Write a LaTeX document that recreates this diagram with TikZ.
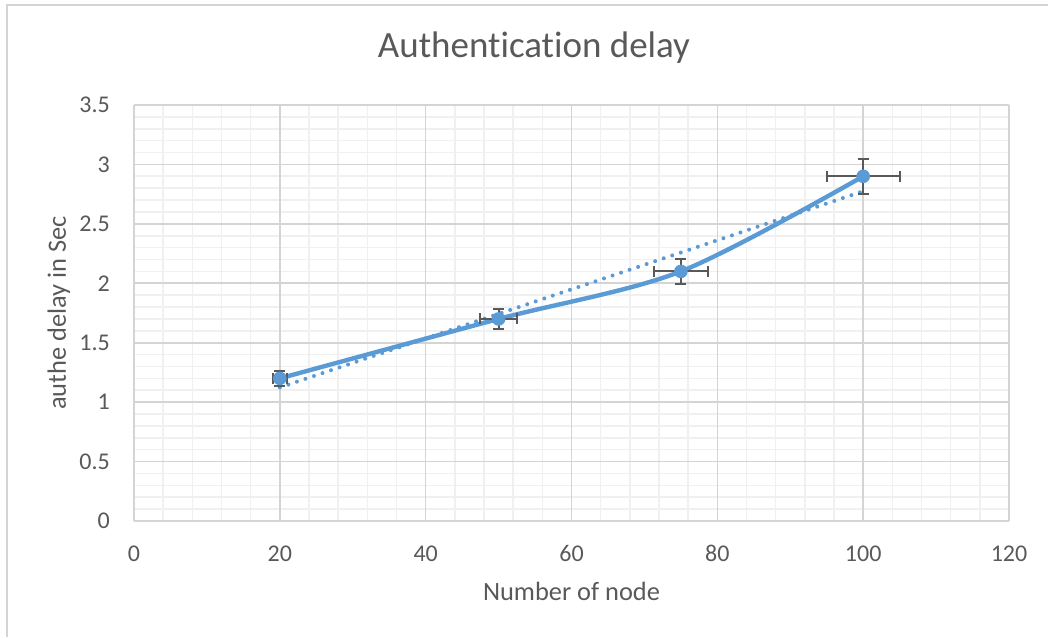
\documentclass[tikz,border=0pt]{standalone}
\usepackage{fontspec}
\setmainfont{Carlito}[Ligatures={NoCommon,NoContextual}]
\usepackage{tikz}
\usetikzlibrary{calc}

\definecolor{seriesblue}{HTML}{5B9BD5}
\definecolor{labelgray}{HTML}{595959}
\definecolor{majorgray}{HTML}{D4D4D4}
\definecolor{minorgray}{HTML}{F0F0F0}

\tikzset{
    minor grid/.style={draw=minorgray, line width=1.6pt},
    major grid/.style={draw=majorgray, line width=1.6pt},
    series/.style={draw=seriesblue, line width=4.4pt, line cap=round, line join=round},
    trend/.style={draw=seriesblue, line width=4pt, line cap=round, dash pattern=on 0pt off 9pt},
    errbar/.style={draw=labelgray, line width=2pt},
    datamark/.style={fill=seriesblue, draw=seriesblue, line width=1pt},
    ticklabel/.style={text=labelgray, font=\fontsize{24}{26}\selectfont, inner sep=0pt},
    axislabel/.style={text=labelgray, font=\fontsize{26.4}{30}\selectfont, inner sep=0pt},
}

\begin{document}
\begin{tikzpicture}[x=7.2917pt, y=118.857pt]
    \useasboundingbox (-134pt,-116pt) rectangle (914pt,521pt);

    %chart frame
    \draw[majorgray, line width=1.5pt] (-127pt,-116pt) -- (-127pt,516pt) -- (914pt,516pt);

    %grid
    \foreach \gx in {0,4,...,120} \draw[minor grid] (\gx,0) -- (\gx,3.5);
    \foreach \gy in {0,0.1,...,3.45} \draw[minor grid] (0,\gy) -- (120,\gy);
    \foreach \gx in {0,20,...,120} \draw[major grid] (\gx,0) -- (\gx,3.5);
    \foreach \gy in {0,0.5,...,3.5} \draw[major grid] (0,\gy) -- (120,\gy);

    %tick labels
    \foreach \gx in {0,20,...,120}
        \node[ticklabel, anchor=base] (xt\gx) at ($(\gx,0)+(0,-40pt)$) {\gx};
    \foreach \gy/\gt in {0/0,0.5/0.5,1/1,1.5/1.5,2/2,2.5/2.5,3/3,3.5/3.5}
        \node[ticklabel, anchor=east] at ($(0,\gy)+(-24pt,0)$) {\gt};

    %titles
    \node[axislabel, anchor=base, font=\fontsize{37}{40}\selectfont] (title) at (400pt,463pt) {Authentication delay};
    \node[axislabel, anchor=base] (xlab) at (437.5pt,-79pt) {Number of node};
    \node[axislabel, anchor=base, rotate=90] (ylab) at (-68pt,208pt) {authe delay in Sec};

    %data points
    \coordinate (p20)  at (20,1.2);
    \coordinate (p50)  at (50,1.7);
    \coordinate (p75)  at (75,2.1);
    \coordinate (p100) at (100,2.9);

    %trend line
    \coordinate (t20)  at (20,1.123623);
    \coordinate (t100) at (100,2.774775);
    \draw[trend] (t20) -- (t100);

    %series
    \draw[series] plot[smooth] coordinates {(p20) (p50) (p75) (p100)};

    %error bars (5 percent)
    \foreach \pt/\ex/\ey in {p20/1/0.06, p50/2.5/0.085, p75/3.75/0.105, p100/5/0.145} {
        \draw[errbar] ($(\pt)+(-\ex,0)$) -- ($(\pt)+(\ex,0)$);
        \draw[errbar] ($(\pt)+(-\ex,0)+(0,-5.5pt)$) -- ($(\pt)+(-\ex,0)+(0,5.5pt)$);
        \draw[errbar] ($(\pt)+(\ex,0)+(0,-5.5pt)$) -- ($(\pt)+(\ex,0)+(0,5.5pt)$);
        \draw[errbar] ($(\pt)+(0,-\ey)$) -- ($(\pt)+(0,\ey)$);
        \draw[errbar] ($(\pt)+(0,-\ey)+(-5.5pt,0)$) -- ($(\pt)+(0,-\ey)+(5.5pt,0)$);
        \draw[errbar] ($(\pt)+(0,\ey)+(-5.5pt,0)$) -- ($(\pt)+(0,\ey)+(5.5pt,0)$);
    }

    %markers
    \foreach \pt in {p20,p50,p75,p100}
        \fill[datamark] (\pt) circle (6.3pt);
\end{tikzpicture}
\end{document}
